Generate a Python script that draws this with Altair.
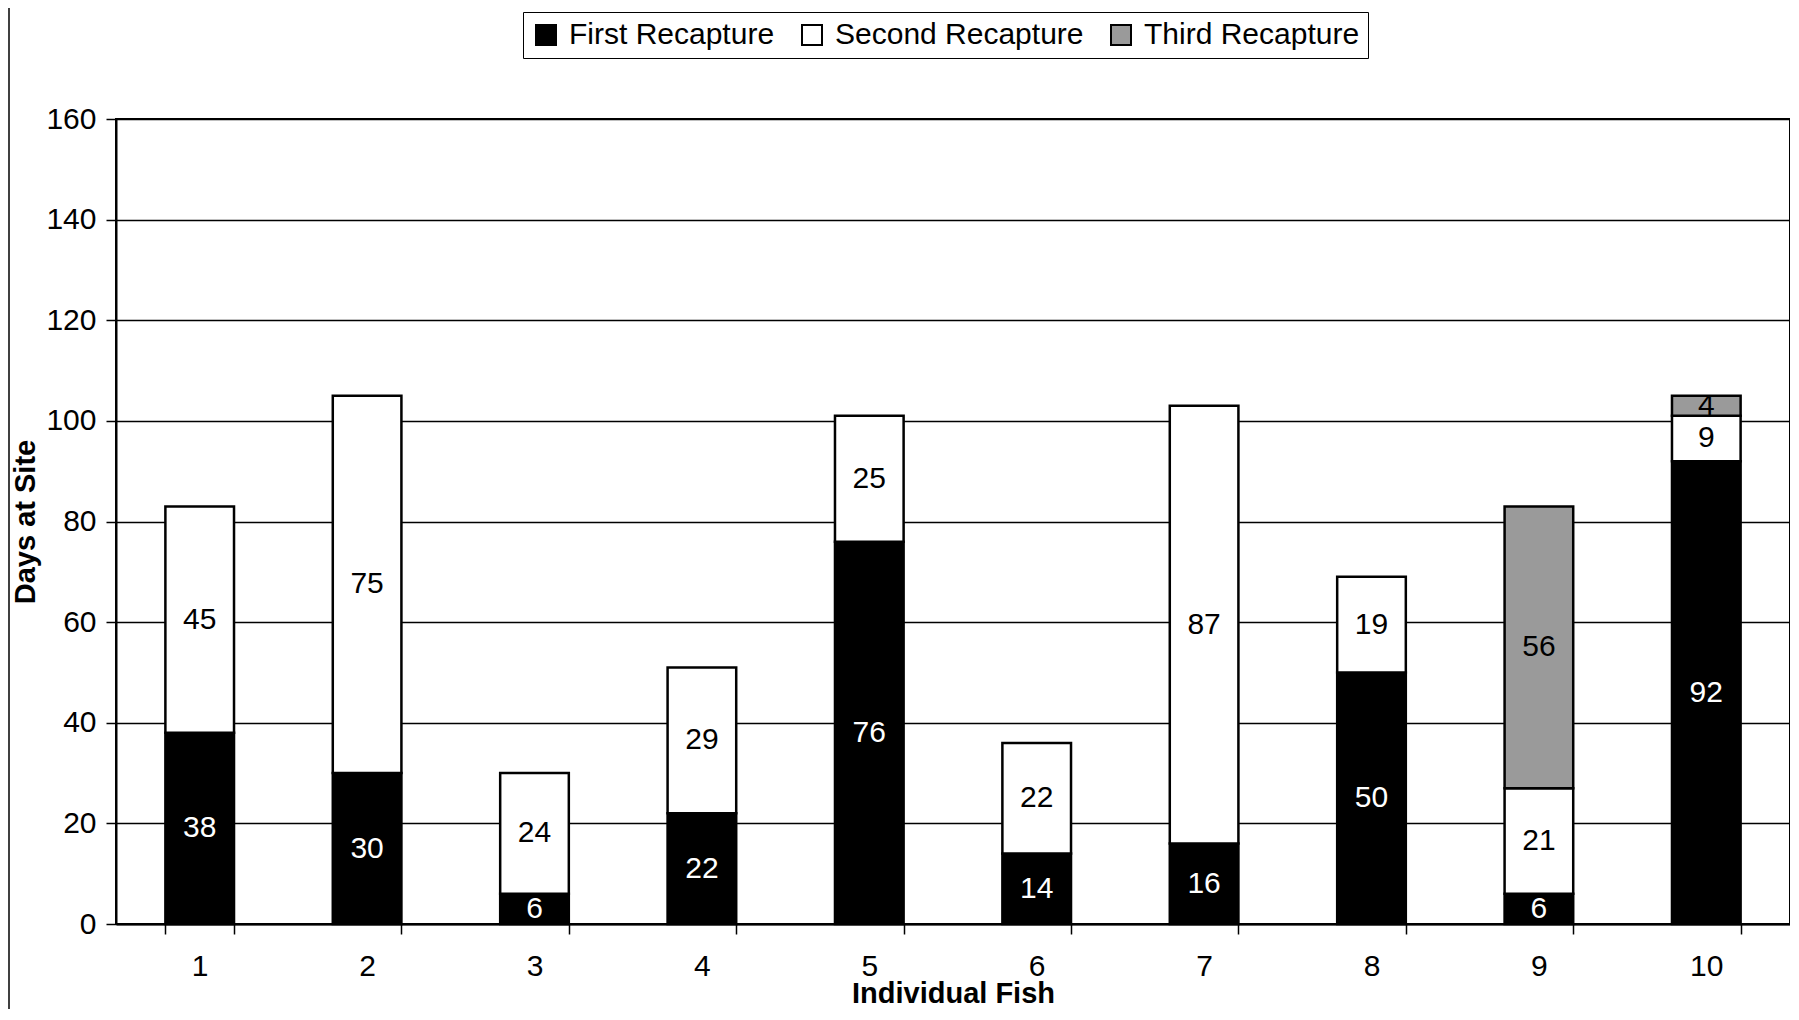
import altair as alt
import pandas as pd

fish = [1, 2, 3, 4, 5, 6, 7, 8, 9, 10]
first_recapture = [38, 30, 6, 22, 76, 14, 16, 50, 6, 92]
second_recapture = [45, 75, 24, 29, 25, 22, 87, 19, 21, 9]
third_recapture = [0, 0, 0, 0, 0, 0, 0, 0, 56, 4]
stages = ["First Recapture", "Second Recapture", "Third Recapture"]
stage_colors = ["#000000", "#ffffff", "#9a9a9a"]

rows = []
for i, f in enumerate(fish):
    for k, vals in enumerate([first_recapture, second_recapture, third_recapture]):
        if vals[i] > 0:
            rows.append({"fish": f, "stage": stages[k], "idx": k, "value": vals[i]})
df = pd.DataFrame(rows)

FONT = "Liberation Sans"

x_enc = alt.X(
    "fish:O",
    title="Individual Fish",
    scale=alt.Scale(paddingInner=0.59, paddingOuter=0.295),
    axis=alt.Axis(
        labelAngle=0, labelFontSize=30, labelPadding=17, tickBand="extent",
        tickSize=10, titleFontSize=29, titlePadding=-2, grid=False,
    ),
)

bars = alt.Chart(df).mark_bar(stroke="black", strokeWidth=2.5).encode(
    x=x_enc,
    y=alt.Y(
        "value:Q", stack="zero", title="Days at Site",
        scale=alt.Scale(domain=[0, 160]),
        axis=alt.Axis(values=list(range(0, 161, 20)), labelFontSize=30, labelPadding=10,
                      tickSize=10, titleFontSize=29, titlePadding=5),
    ),
    color=alt.Color(
        "stage:N",
        scale=alt.Scale(domain=stages, range=stage_colors),
        legend=alt.Legend(
            title=None, orient="none", legendX=407, legendY=-107, direction="horizontal",
            strokeColor="black", padding=8, symbolType="square", symbolSize=400,
            symbolStrokeColor="black", symbolStrokeWidth=2, labelFontSize=30,
            labelFont=FONT, labelOffset=8, columnPadding=22, symbolOpacity=1,
            labelLimit=0,
        ),
    ),
    order=alt.Order("idx:Q", sort="ascending"),
)

labels = alt.Chart(df).transform_stack(
    stack="value", groupby=["fish"], as_=["y0", "y1"], sort=[alt.SortField("idx", order="ascending")]
).transform_calculate(
    mid="(datum.y0 + datum.y1) / 2"
).mark_text(fontSize=30, font=FONT, baseline="middle", align="center").encode(
    x=alt.X("fish:O"),
    y=alt.Y("mid:Q"),
    text=alt.Text("value:Q"),
    color=alt.condition("datum.stage == 'First Recapture'", alt.value("white"), alt.value("black")),
)

frame = alt.Chart(pd.DataFrame({"a": [0]})).mark_rule(color="black", strokeWidth=1.5).encode(
    x=alt.value(-107), y=alt.value(-119), y2=alt.value(890)
)

chart = alt.layer(bars, labels, frame).properties(
    width=1674, height=805,
    autosize=alt.AutoSizeParams(type="none"),
    padding={"left": 108, "top": 111, "right": 0, "bottom": 88},
).configure(
    font=FONT,
).configure_axis(
    labelFont=FONT, titleFont=FONT, labelColor="black", titleColor="black",
    domainColor="black", domainWidth=2, tickColor="black", tickWidth=1.5,
    gridColor="black", gridWidth=1.5, gridOpacity=1, titleFontWeight="bold",
).configure_view(
    stroke="black", strokeWidth=2,
)

chart.save("out.html", embed_options={"renderer": "svg", "actions": False})
